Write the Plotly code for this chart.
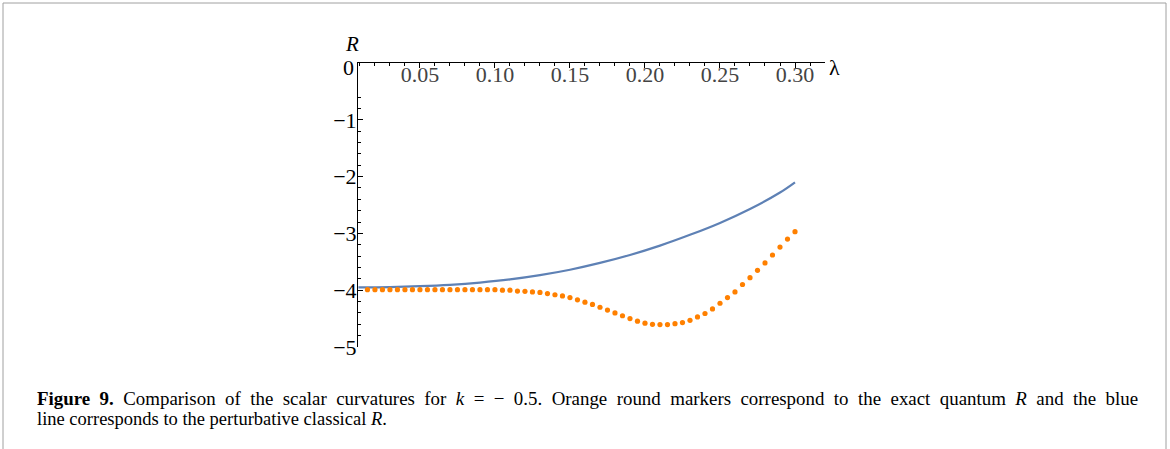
import plotly.graph_objects as go

# Perturbative classical scalar curvature (blue line)
lam_classical = [0.009, 0.03, 0.05, 0.07, 0.09, 0.11, 0.13, 0.15, 0.17,
                 0.19, 0.21, 0.23, 0.25, 0.27, 0.29, 0.30]
R_classical = [-3.95, -3.945, -3.93, -3.905, -3.865, -3.81, -3.735, -3.64, -3.52,
               -3.38, -3.215, -3.025, -2.815, -2.57, -2.28, -2.10]

# Exact quantum scalar curvature (orange round markers)
lam_exact = [0.015, 0.020, 0.025, 0.030, 0.035, 0.040, 0.045, 0.050, 0.055, 0.060,
             0.065, 0.070, 0.075, 0.080, 0.085, 0.090, 0.095, 0.100, 0.105, 0.110,
             0.115, 0.120, 0.125, 0.130, 0.135, 0.140, 0.145, 0.150, 0.155, 0.160,
             0.165, 0.170, 0.175, 0.180, 0.185, 0.190, 0.195, 0.200, 0.205, 0.210,
             0.215, 0.220, 0.225, 0.230, 0.235, 0.240, 0.245, 0.250, 0.255, 0.260,
             0.265, 0.270, 0.275, 0.280, 0.285, 0.290, 0.295, 0.300]
R_exact = [-3.99, -3.99, -3.99, -3.99, -3.99, -3.99, -3.99, -3.99, -3.99, -3.99,
           -3.99, -3.99, -3.99, -3.99, -3.99, -3.99, -3.99, -3.99, -4.00, -4.00,
           -4.015, -4.02, -4.03, -4.04, -4.06, -4.08, -4.10, -4.13, -4.17, -4.21,
           -4.25, -4.30, -4.35, -4.40, -4.45, -4.50, -4.545, -4.58, -4.60, -4.605,
           -4.605, -4.59, -4.57, -4.53, -4.47, -4.41, -4.33, -4.23, -4.13, -4.03,
           -3.90, -3.78, -3.65, -3.52, -3.38, -3.24, -3.10, -2.97]

x_range = [0.0087, 0.32]
y_range = [-5.0, 0.0]

W, H = 1170, 449
ML, MR, MT, MB = 358, 345, 63, 102
PW, PH = W - ML - MR, H - MT - MB


def px(x):
    return (x - ML) / PW


def py(y):
    return 1 - (y - MT) / PH


SERIF = "Liberation Serif"

fig = go.Figure()
fig.add_trace(go.Scatter(
    x=lam_classical, y=R_classical, mode="lines",
    line=dict(color="#5E81B5", width=2.2, shape="spline", smoothing=1.0),
    hoverinfo="skip", showlegend=False, cliponaxis=False,
))
fig.add_trace(go.Scatter(
    x=lam_exact, y=R_exact, mode="markers",
    marker=dict(color="#FF8000", size=5.2, line=dict(width=0)),
    hoverinfo="skip", showlegend=False, cliponaxis=False,
))

fig.update_layout(
    width=W, height=H,
    margin=dict(l=ML, r=MR, t=MT, b=MB),
    paper_bgcolor="white", plot_bgcolor="white",
    font=dict(family=SERIF, color="black", size=19),
    xaxis=dict(
        range=x_range, side="top", showgrid=False, zeroline=False,
        showline=True, linecolor="black", linewidth=1,
        ticks="inside", ticklen=5, tickcolor="black", tickwidth=1,
        ticklabelposition="inside",
        tick0=0, dtick=0.05, tickformat=".2f",
        tickfont=dict(family=SERIF, size=22),
        minor=dict(dtick=0.01, tick0=0, ticks="inside", ticklen=3,
                   tickcolor="black", tickwidth=1, showgrid=False),
    ),
    yaxis=dict(
        range=y_range, showgrid=False, zeroline=False,
        showline=True, linecolor="black", linewidth=1,
        ticks="inside", ticklen=5, tickcolor="black", tickwidth=1,
        tick0=0, dtick=1, tickformat="d",
        ticklabelstandoff=-4,
        tickfont=dict(family=SERIF, size=22),
        minor=dict(dtick=0.2, tick0=0, ticks="inside", ticklen=3,
                   tickcolor="black", tickwidth=1, showgrid=False),
    ),
)


def label(text, x, y, size=22, xanchor="center"):
    fig.add_annotation(text=text, x=px(x), y=py(y), xref="paper", yref="paper",
                       xanchor=xanchor, yanchor="middle", showarrow=False,
                       font=dict(family=SERIF, size=size))


# Axis labels and the origin tick value
label("<i>R</i>", 352, 44, size=21)
label("λ", 834, 67)
label("0", 356, 67, xanchor="right")

# Caption, set justified on the first line
gap = " \u00a0"
line1 = gap.join(["<b>Figure", "9.</b>", "Comparison", "of", "the", "scalar",
                  "curvatures", "for", "<i>k</i>", "=", "−", "0.5.", "Orange",
                  "round", "markers", "correspond", "to", "the", "exact", "quantum",
                  "<i>R</i>", "and", "the", "blue"])
line2 = "line corresponds to the perturbative classical <i>R</i>."
label(line1, 35, 398, size=18.9, xanchor="left")
label(line2, 35, 419, size=18.5, xanchor="left")

# Page frame
frame = dict(color="#A0A0A0", width=1)
fig.add_shape(type="line", xref="paper", yref="paper", x0=px(3), x1=px(3),
              y0=py(3), y1=py(449), line=frame)
fig.add_shape(type="line", xref="paper", yref="paper", x0=px(1166), x1=px(1166),
              y0=py(3), y1=py(449), line=frame)
fig.add_shape(type="line", xref="paper", yref="paper", x0=px(3), x1=px(1166),
              y0=py(3), y1=py(3), line=frame)

fig.write_html("out.html")
